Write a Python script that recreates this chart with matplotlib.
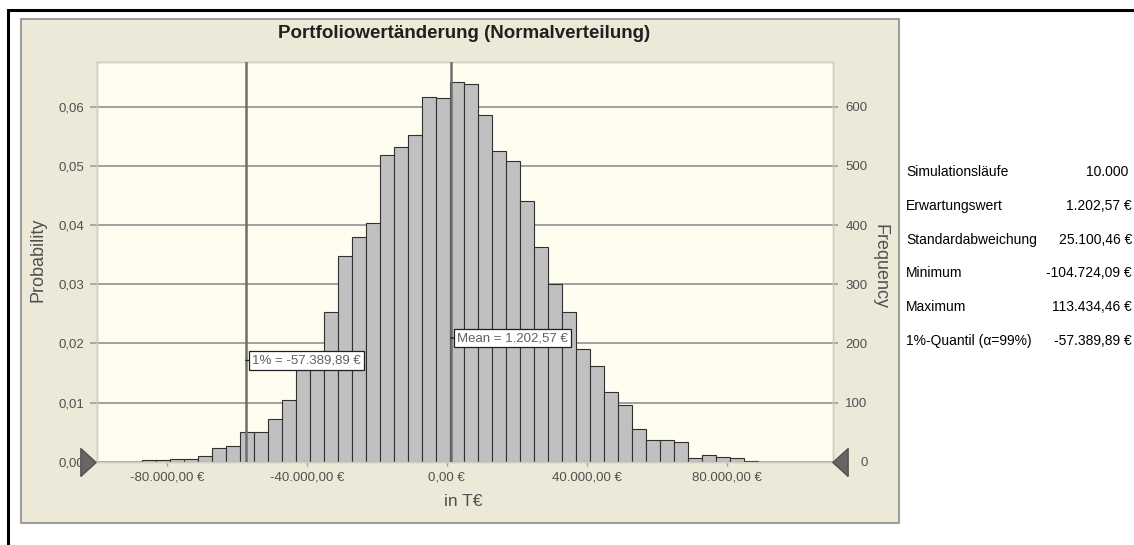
import numpy as np
import matplotlib
matplotlib.use("Agg")
import matplotlib.pyplot as plt
from matplotlib.patches import Rectangle

plt.rcParams['font.family'] = ['Liberation Sans', 'DejaVu Sans']

# Histogramm der Portfoliowertänderung (10.000 Simulationsläufe)
bin_start = -87000
bin_width = 4000
counts = [3, 3, 5, 5, 10, 23, 27, 51, 51, 73, 104, 158, 182, 253, 348, 379,
          403, 518, 532, 552, 616, 614, 641, 638, 586, 525, 508, 440, 362, 301,
          253, 190, 162, 118, 95, 56, 37, 37, 34, 6, 12, 8, 6, 2]
n_runs = 10000
quantil_1 = -57389.89
mean_val = 1202.57

x_ticks = [-80000, -40000, 0, 40000, 80000]
freq_ticks = [0, 100, 200, 300, 400, 500, 600]

stat_names = ["Simulationsläufe", "Erwartungswert", "Standardabweichung",
              "Minimum", "Maximum", "1%-Quantil (α=99%)"]
stat_values = ["10.000", "1.202,57 €", "25.100,46 €", "-104.724,09 €",
               "113.434,46 €", "-57.389,89 €"]

W, H = 1134, 545


def eur(v):
    s = f"{abs(v):,.2f}".replace(",", "X").replace(".", ",").replace("X", ".")
    return ("-" if v < 0 else "") + s + " €"


def fx(px):
    return px / W


def fy(py):
    return 1 - py / H


fig = plt.figure(figsize=(W / 100, H / 100), dpi=100)
fig.patch.set_facecolor("white")

# aeusserer Rahmen + graues Panel
fig.patches.append(Rectangle((fx(8), fy(560)), fx(1140) - fx(8), fy(10) - fy(560),
                             transform=fig.transFigure, fill=False,
                             edgecolor="black", linewidth=2.2, zorder=-2))
fig.patches.append(Rectangle((fx(21), fy(523)), fx(899) - fx(21), fy(19) - fy(523),
                             transform=fig.transFigure, facecolor="#ECE9D8",
                             edgecolor="#8C8C8C", linewidth=1.2, zorder=-1))

left, right, top, bottom = 96.7, 833.3, 61.7, 461.7
ax = fig.add_axes([fx(left), fy(bottom), fx(right) - fx(left), fy(top) - fy(bottom)])
ax.set_facecolor("#FEFDF0")
ax2 = ax.twinx()

ymax = 676
ax.set_xlim(-100000, 110400)
ax.set_ylim(0, ymax / n_runs)
ax2.set_ylim(0, ymax)

edges = bin_start + bin_width * np.arange(len(counts))
ax2.bar(edges, counts, width=bin_width, align="edge", color="#C0C0C0",
        edgecolor="#303030", linewidth=0.8, zorder=2)

# Gitter
prob_ticks = [f / n_runs for f in freq_ticks]
ax.set_yticks(prob_ticks)
ax.set_yticklabels([f"{p:.2f}".replace(".", ",") for p in prob_ticks])
ax2.set_yticks(freq_ticks)
ax2.set_yticklabels([str(f) for f in freq_ticks], ha="right")
for f in freq_ticks:
    ax2.axhline(f, color="#A0A0A0", linewidth=1.4, zorder=1)

ax.set_xticks(x_ticks)
ax.set_xticklabels([eur(v) for v in x_ticks])

for a in (ax, ax2):
    for s in a.spines.values():
        s.set_color("#D2CEC0")
        s.set_linewidth(1)
ax.tick_params(axis="y", length=4.8, width=1.2, color="#A0A0A0", pad=4,
               labelsize=9.5, labelcolor="#505050")
ax2.tick_params(axis="y", length=3.6, width=1.2, color="#A0A0A0", pad=21,
                labelsize=9.5, labelcolor="#505050")
ax.tick_params(axis="x", length=3, width=1, color="#A0A0A0", pad=4,
               labelsize=9.5, labelcolor="#505050")

# Linien fuer 1%-Quantil und Mittelwert
for v in (quantil_1, mean_val):
    ax2.axvline(v, color="#6E6E6E", linewidth=1.8, zorder=3)

box = dict(boxstyle="square,pad=0.25", facecolor="white", edgecolor="#202020",
           linewidth=0.9)
ax2.annotate("1% = " + eur(quantil_1), xy=(quantil_1, 171), xytext=(4.5, 0),
             textcoords="offset points", ha="left", va="center", fontsize=9.5,
             color="#606060", bbox=box, zorder=5,
             arrowprops=dict(arrowstyle="-", color="#202020", lw=1,
                             shrinkA=0, shrinkB=0))
ax2.annotate("Mean = " + eur(mean_val), xy=(mean_val, 209), xytext=(4.5, 0),
             textcoords="offset points", ha="left", va="center", fontsize=9.5,
             color="#606060", bbox=box, zorder=5,
             arrowprops=dict(arrowstyle="-", color="#202020", lw=1,
                             shrinkA=0, shrinkB=0))

# Schieber-Dreiecke
tri_right = [(-0.55, -1), (0.55, 0), (-0.55, 1), (-0.55, -1)]
tri_left = [(0.55, -1), (-0.55, 0), (0.55, 1), (0.55, -1)]
ax2.plot([-0.0115], [0], marker=tri_right, markersize=20, color="#666666",
         markeredgecolor="#505050", transform=ax.transAxes, clip_on=False,
         zorder=6)
ax2.plot([1.0095], [0], marker=tri_left, markersize=20, color="#666666",
         markeredgecolor="#505050", transform=ax.transAxes, clip_on=False,
         zorder=6)

# Beschriftungen
fig.text(fx(464.5), fy(33), "Portfoliowertänderung (Normalverteilung)",
         ha="center", va="center", fontsize=13.5, fontweight="bold",
         color="#202020")
fig.text(fx(463.5), fy(502), "in T€", ha="center", va="center",
         fontsize=12.5, color="#505050")
fig.text(fx(38), fy(260), "Probability", ha="center", va="center",
         rotation=90, fontsize=13, color="#505050")
fig.text(fx(880), fy(266), "Frequency", ha="center", va="center",
         rotation=270, fontsize=13, color="#505050")

# Kennzahlen-Tabelle
for i, (name, val) in enumerate(zip(stat_names, stat_values)):
    y = fy(172.3 + i * 33.7)
    fig.text(fx(906), y, name, ha="left", va="center", fontsize=10, color="black")
    xr = 1128 if i == 0 else 1132
    fig.text(fx(xr), y, val, ha="right", va="center", fontsize=10, color="black")

fig.savefig("out.png", dpi=100)
